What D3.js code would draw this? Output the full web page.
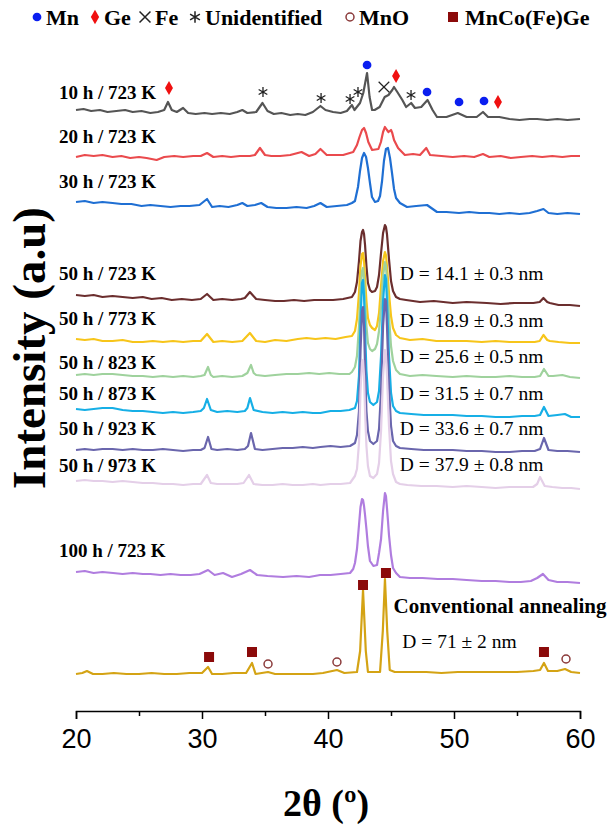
<!DOCTYPE html>
<html>
<head>
<meta charset="utf-8">
<script src="https://cdn.jsdelivr.net/npm/d3@7"></script>
<style>
  body { margin: 0; background: #fff; }
  .lbl { font-family: "Liberation Serif", "Times New Roman", serif; font-weight: bold; font-size: 19px; }
  .size { font-family: "Liberation Serif", "Times New Roman", serif; font-size: 19.5px; }
  .legend { font-family: "Liberation Serif", "Times New Roman", serif; font-weight: bold; font-size: 22px; }
  .axis text { font-family: "Liberation Sans", Arial, sans-serif; font-size: 27px; fill: #000; }
  .axis path, .axis line { stroke: #000; stroke-width: 1.5; }
  .axis-title { font-family: "Liberation Serif", "Times New Roman", serif; font-weight: bold; }
</style>
</head>
<body>
<svg id="xrd" width="615" height="831"></svg>
<script>
// XRD patterns, [2theta (deg), stacked intensity (a.u.)]
const h10_723 = [[20.0,601],[20.6,602],[21.2,600],[21.9,601],[22.5,599],[23.2,600],[23.9,601],[24.5,599],[25.2,600],[25.9,598],[26.5,599],[27.0,601],[27.3,609],[27.6,601],[28.0,599],[28.5,603],[28.9,598],[29.5,597],[30.2,598],[30.8,597],[31.5,598],[32.2,597],[32.8,599],[33.2,601],[33.6,598],[34.3,599],[34.8,608],[35.2,600],[35.7,597],[36.3,598],[37.0,596],[37.6,597],[38.2,596],[38.8,599],[39.4,605],[39.8,601],[40.4,599],[41.0,598],[41.5,600],[41.9,606],[42.1,601],[42.54,608],[42.8,618],[43.1,638],[43.3,614],[43.5,601],[43.7,601],[44.1,604],[44.5,614],[44.8,616],[45.1,621],[45.24,624],[45.5,619],[45.9,611],[46.2,604],[46.6,608],[46.9,603],[47.4,604],[47.9,611],[48.3,601],[48.65,594],[49.4,594],[50.3,598],[51.0,594],[51.8,594],[52.3,599],[52.7,594],[53.6,594],[54.4,592],[55.2,591],[56.0,592],[56.6,592],[57.4,591],[58.2,592],[59.0,591],[60.0,592]];
const h20_723 = [[20.0,554],[20.7,556],[21.4,555],[22.1,556],[22.9,554],[23.6,555],[24.3,553],[25.0,554],[25.6,553],[26.4,551],[27.0,554],[27.8,555],[28.5,554],[29.3,555],[29.9,555],[30.4,558],[30.9,554],[31.6,555],[32.3,554],[33.0,555],[33.8,555],[34.2,556],[34.6,563],[35.0,556],[35.5,555],[36.2,555],[37.0,556],[37.9,559],[38.5,555],[39.0,557],[39.4,562],[39.9,556],[40.5,556],[41.2,556],[42.0,559],[42.3,566],[42.5,574],[42.7,581],[42.86,583],[43.02,578],[43.2,569],[43.5,561],[44.0,562],[44.2,569],[44.37,579],[44.52,584],[44.68,581],[44.8,579],[45.0,581],[45.1,578],[45.24,571],[45.56,563],[46.1,556],[46.75,557],[47.3,556],[47.8,563],[48.1,556],[49.0,555],[49.9,554],[50.8,555],[51.6,554],[52.3,557],[52.8,554],[53.7,555],[54.5,553],[55.3,554],[56.2,555],[57.0,554],[57.8,555],[58.6,554],[59.3,555],[60.0,555]];
const h30_723 = [[20.0,509],[20.7,510],[21.4,508],[22.1,509],[22.9,508],[23.6,507],[24.4,507],[25.2,505],[25.9,506],[26.7,505],[27.5,504],[28.3,505],[29.0,505],[29.8,506],[30.4,512],[30.8,504],[31.4,505],[32.1,504],[32.8,506],[33.2,508],[33.6,505],[34.2,506],[34.7,508],[35.2,504],[35.9,503],[36.7,503],[37.5,504],[38.3,503],[38.9,505],[39.4,508],[39.9,504],[40.7,505],[41.5,506],[41.9,508],[42.14,510],[42.38,524],[42.54,540],[42.7,553],[42.86,558],[43.02,554],[43.17,543],[43.33,528],[43.49,514],[43.73,509],[43.97,510],[44.13,515],[44.29,530],[44.44,550],[44.6,562],[44.76,563],[44.92,553],[45.08,538],[45.24,522],[45.4,513],[45.71,508],[46.27,504],[47.0,505],[47.86,506],[48.65,499],[49.4,499],[50.4,498],[51.2,499],[52.0,498],[52.8,498],[53.6,497],[54.4,498],[55.2,497],[56.0,498],[56.6,500],[57.1,502],[57.5,498],[58.2,497],[59.0,498],[60.0,497]];
const h50_723 = [[20.0,416],[20.7,415],[21.4,416],[22.1,414],[22.9,415],[23.7,414],[24.5,413],[25.3,414],[26.0,412],[26.8,413],[27.6,411],[28.4,412],[29.2,411],[29.9,412],[30.4,417],[30.9,411],[31.6,412],[32.4,411],[33.1,412],[33.4,413],[33.8,419],[34.3,412],[35.0,411],[35.8,410],[36.5,410],[37.3,411],[38.1,410],[38.9,411],[39.6,411],[40.4,411],[41.2,412],[41.9,414],[42.14,419],[42.3,429],[42.46,450],[42.58,470],[42.7,479],[42.78,481],[42.86,477],[42.94,466],[43.05,445],[43.17,428],[43.33,421],[43.49,419],[43.73,420],[43.89,424],[44.05,436],[44.21,458],[44.37,478],[44.52,486],[44.6,484],[44.68,477],[44.84,452],[45.0,430],[45.16,420],[45.4,414],[45.71,412],[46.2,411],[47.3,409],[48.4,410],[49.9,408],[51.0,409],[52.6,408],[53.7,407],[54.8,408],[56.3,408],[56.8,409],[57.1,413],[57.4,409],[57.6,408],[58.3,406],[59.2,406],[60.0,405]];
const h50_773 = [[20.0,372],[20.7,371],[21.4,372],[22.1,370],[22.9,370],[23.7,371],[24.5,369],[25.3,369],[26.1,370],[26.9,369],[27.7,370],[28.5,369],[29.3,370],[29.9,370],[30.4,377],[30.9,369],[31.6,370],[32.4,369],[33.2,370],[33.8,378],[34.3,370],[35.0,369],[35.8,371],[36.7,370],[37.6,372],[38.3,373],[39.0,372],[39.8,373],[40.6,372],[41.4,374],[41.9,375],[42.14,380],[42.3,392],[42.46,418],[42.58,445],[42.7,457],[42.78,458],[42.86,450],[42.94,433],[43.05,410],[43.17,393],[43.33,386],[43.5,383],[43.73,381],[43.89,385],[44.05,398],[44.21,425],[44.37,450],[44.52,459],[44.6,456],[44.68,445],[44.84,418],[45.0,395],[45.16,383],[45.4,376],[45.71,373],[46.5,371],[47.5,372],[48.6,370],[49.9,370],[51.0,370],[52.2,369],[53.3,370],[54.4,369],[55.4,369],[56.4,369],[56.8,370],[57.1,376],[57.4,371],[57.6,370],[58.3,369],[59.2,368],[60.0,368]];
const h50_823 = [[20.0,336],[20.7,337],[21.4,336],[22.1,337],[22.9,337],[23.7,336],[24.5,335],[25.3,335],[26.1,334],[26.9,335],[27.7,334],[28.5,335],[29.3,334],[29.9,335],[30.2,336],[30.48,344],[30.7,336],[30.9,334],[31.6,335],[32.4,334],[33.2,335],[33.6,338],[33.89,346],[34.1,338],[34.3,336],[35.0,335],[35.8,336],[36.7,337],[37.6,337],[38.5,338],[39.3,337],[40.1,338],[40.9,337],[41.7,337],[41.9,339],[42.14,344],[42.3,355],[42.46,385],[42.58,420],[42.7,440],[42.78,443],[42.86,433],[42.94,410],[43.05,385],[43.17,368],[43.33,362],[43.5,360],[43.73,362],[43.89,367],[44.05,380],[44.21,405],[44.37,435],[44.52,449],[44.6,445],[44.68,430],[44.84,395],[45.0,365],[45.16,350],[45.4,341],[45.71,337],[46.5,335],[47.5,336],[48.6,335],[49.9,334],[51.0,335],[52.2,334],[53.3,334],[54.4,335],[55.4,334],[56.4,334],[56.83,335],[57.14,342],[57.5,335],[57.86,335],[58.6,336],[59.2,334],[60.0,333]];
const h50_873 = [[20.0,302],[20.7,301],[21.4,302],[22.1,303],[22.9,303],[23.7,301],[24.5,300],[25.3,300],[26.1,299],[26.9,298],[27.7,299],[28.5,298],[29.3,299],[29.9,300],[30.15,303],[30.4,312],[30.7,301],[31.2,299],[32.0,300],[32.8,299],[33.4,300],[33.6,303],[33.81,313],[34.1,301],[34.8,299],[35.6,298],[36.4,299],[37.2,298],[38.0,299],[38.8,298],[39.4,298],[40.2,300],[41.0,300],[41.7,301],[42.14,303],[42.3,310],[42.46,335],[42.58,390],[42.7,428],[42.78,431],[42.86,415],[42.94,380],[43.05,340],[43.17,318],[43.33,309],[43.6,306],[43.89,309],[44.05,320],[44.21,355],[44.37,410],[44.52,436],[44.6,432],[44.68,410],[44.84,355],[45.0,318],[45.16,305],[45.4,300],[45.71,298],[46.6,297],[47.6,296],[48.7,296],[49.9,296],[51.0,295],[52.2,295],[53.3,294],[54.4,294],[55.4,295],[56.4,295],[56.83,296],[57.14,304],[57.5,295],[58.2,296],[58.8,297],[59.3,294],[60.0,294]];
const h50_923 = [[20.0,261],[20.7,262],[21.4,261],[22.1,262],[22.9,262],[23.7,261],[24.5,262],[25.3,261],[26.1,261],[26.9,262],[27.7,261],[28.5,260],[29.3,261],[29.9,261],[30.2,263],[30.48,274],[30.75,262],[31.2,261],[32.0,262],[32.8,261],[33.4,262],[33.65,265],[33.89,278],[34.2,262],[34.8,261],[35.6,262],[36.4,263],[37.2,263],[38.0,264],[38.8,263],[39.4,264],[40.2,265],[41.0,264],[41.75,265],[42.14,268],[42.3,276],[42.46,300],[42.58,360],[42.7,400],[42.78,404],[42.86,385],[42.94,345],[43.05,300],[43.17,280],[43.33,270],[43.6,267],[43.89,270],[44.05,282],[44.21,320],[44.37,385],[44.52,412],[44.6,410],[44.68,385],[44.84,325],[45.0,285],[45.16,270],[45.4,265],[45.71,263],[46.6,262],[47.6,261],[48.7,261],[49.9,261],[51.0,260],[52.2,260],[53.3,259],[54.4,259],[55.4,260],[56.4,260],[56.83,262],[57.14,273],[57.5,261],[58.2,260],[59.0,260],[60.0,259]];
const h50_973 = [[20.0,230],[20.7,231],[21.4,230],[22.1,230],[22.9,229],[23.7,230],[24.5,229],[25.3,228],[26.1,228],[26.9,227],[27.7,227],[28.5,226],[29.3,227],[29.9,227],[30.4,236],[30.7,228],[31.2,227],[32.0,227],[32.8,227],[33.3,228],[33.73,236],[34.1,227],[34.8,226],[35.6,226],[36.4,227],[37.2,226],[38.0,226],[38.8,227],[39.4,226],[40.2,227],[41.0,227],[41.75,228],[42.14,235],[42.3,242],[42.46,268],[42.58,320],[42.7,349],[42.78,351],[42.86,335],[42.94,300],[43.05,265],[43.17,245],[43.33,235],[43.6,233],[43.89,237],[44.05,248],[44.21,280],[44.37,335],[44.52,361],[44.6,356],[44.68,335],[44.84,285],[45.0,250],[45.16,237],[45.4,229],[45.71,227],[46.3,226],[47.4,225],[48.6,225],[49.9,224],[51.0,225],[52.2,224],[53.3,223],[54.4,224],[55.4,224],[56.27,224],[56.6,227],[56.83,234],[57.2,225],[57.8,224],[58.6,223],[59.3,223],[60.0,222]];
const h100_723 = [[20.0,139],[20.7,140],[21.4,138],[22.1,139],[22.94,138],[23.7,137],[24.5,138],[25.3,137],[25.9,137],[26.7,136],[27.5,137],[28.3,136],[29.1,136],[29.8,137],[30.48,141],[31.0,136],[31.67,138],[32.38,134],[33.1,137],[33.81,141],[34.37,136],[35.2,135],[36.43,134],[37.5,135],[38.5,134],[39.37,136],[40.2,136],[41.0,137],[41.75,138],[42.0,142],[42.14,148],[42.3,162],[42.46,186],[42.58,204],[42.7,212],[42.78,211],[42.86,205],[42.94,196],[43.05,182],[43.17,165],[43.33,150],[43.6,145],[43.89,146],[44.05,158],[44.21,172],[44.37,200],[44.52,218],[44.6,215],[44.68,203],[44.76,190],[44.84,176],[45.0,156],[45.16,143],[45.4,138],[45.71,134],[46.5,133],[47.5,133],[48.7,132],[49.9,132],[51.0,131],[52.2,130],[53.3,130],[54.4,129],[55.3,129],[56.1,130],[56.6,133],[57.06,137],[57.5,131],[58.2,129],[59.0,129],[60.0,128]];
const conventional = [[20.0,37],[20.5,38],[20.87,40],[21.35,37],[22.1,37],[23.0,38],[24.0,37],[25.0,37],[26.0,38],[27.0,37],[28.0,37],[29.0,38],[30.0,38],[30.48,44],[30.8,37],[31.6,37],[32.5,38],[33.5,38],[33.97,48],[34.25,37],[35.24,39],[35.8,37],[36.8,37],[37.8,37],[38.8,37],[39.6,38],[40.71,41],[41.3,38],[42.3,39],[42.55,60],[42.78,121],[43.0,60],[43.17,39],[43.6,39],[44.13,39],[44.35,80],[44.52,132],[44.7,80],[44.9,41],[45.3,39],[46.5,39],[47.8,39],[49.0,38],[50.3,39],[51.5,39],[52.6,39],[53.8,39],[55.0,39],[56.3,40],[56.83,41],[57.14,48],[57.46,40],[58.2,40],[58.81,42],[59.3,39],[60.0,38]];

const seriesNames = ["10 h / 723 K","20 h / 723 K","30 h / 723 K","50 h / 723 K","50 h / 773 K","50 h / 823 K","50 h / 873 K","50 h / 923 K","50 h / 973 K","100 h / 723 K",""];
const crystalliteSizes = ["","","","D = 14.1 \u00b1 0.3 nm","D = 18.9 \u00b1 0.3 nm","D = 25.6 \u00b1 0.5 nm","D = 31.5 \u00b1 0.7 nm","D = 33.6 \u00b1 0.7 nm","D = 37.9 \u00b1 0.8 nm","",""];

// phase markers [2theta, intensity]
const mnPeaks = [[43.1,646],[47.86,619],[50.4,609],[52.38,610]];
const gePeaks = [[27.38,623],[45.4,635],[53.49,609]];
const fePeaks = [[44.44,624]];
const unknownPeaks = [[34.84,619],[39.45,613],[41.75,612],[42.38,619],[46.59,616]];
const mnoPeaks = [[35.24,47],[40.71,49],[58.89,52]];
const mncogePeaks = [[30.56,54],[33.97,59],[42.78,126],[44.6,138],[57.14,59]];

const xTicks = [20, 30, 40, 50, 60];

// styling
const colors = ["#555555","#ea4a4d","#1f6fd3","#6b2e2e","#f7c51a","#9fd29d","#16afe6","#6a66ad","#e4cfe8","#b07ddf","#d4a314"];
const labelGap = [11, 14, 14, 15, 14, 6, 9, 15, 9, 15, 0];
const sizeGap = [0, 0, 0, 15, 12, 12, 9, 15, 10, 0, 0];

const data = [h10_723, h20_723, h30_723, h50_723, h50_773, h50_823, h50_873, h50_923, h50_973, h100_723, conventional];

const svg = d3.select("#xrd");
const width = 615, height = 831;
const margin = {top: 11, right: 35, bottom: 120, left: 76};

const xScale = d3.scaleLinear().domain([20, 60]).range([margin.left, width - margin.right]);
const yScale = d3.scaleLinear().domain([0, 700]).range([height - margin.bottom, margin.top]);

// x axis
const xAxis = d3.axisBottom(xScale).tickValues(xTicks).tickSize(8).tickPadding(10).tickFormat(d3.format("d"));
svg.append("g").attr("class", "axis")
    .attr("transform", `translate(0, ${height - margin.bottom})`)
    .call(xAxis);
svg.append("g").attr("class", "axis")
    .attr("transform", `translate(0, ${height - margin.bottom})`)
    .call(d3.axisBottom(xScale).tickValues([25, 35, 45, 55]).tickSize(5).tickFormat(""))
    .select(".domain").remove();

svg.append("text").attr("class", "axis-title")
    .attr("x", xScale(40) - 2).attr("y", height - 15)
    .attr("text-anchor", "middle").attr("font-size", 38)
    .text("2\u03b8 (\u00ba)");
svg.append("text").attr("class", "axis-title")
    .attr("transform", `translate(45, ${yScale(363)}) rotate(-90)`)
    .attr("text-anchor", "middle").attr("font-size", 47)
    .text("Intensity (a.u)");

// patterns
const line = d3.line().x(d => xScale(d[0])).y(d => yScale(d[1]));
data.forEach((d, i) => {
    svg.append("path")
        .attr("d", line(d))
        .attr("fill", "none")
        .attr("stroke", colors[i])
        .attr("stroke-width", 2.2)
        .attr("stroke-linejoin", "round");
    if (seriesNames[i]) {
        svg.append("text").attr("class", "lbl")
            .attr("x", xScale(20) - 17)
            .attr("y", yScale(d[0][1]) - labelGap[i])
            .text(seriesNames[i]);
    }
    if (crystalliteSizes[i]) {
        svg.append("text").attr("class", "size")
            .attr("x", xScale(45.7))
            .attr("y", yScale(d[0][1]) - sizeGap[i])
            .text(crystalliteSizes[i]);
    }
});

svg.append("text").attr("class", "lbl")
    .attr("x", xScale(45.2)).attr("y", yScale(98))
    .style("font-size", "21px")
    .text("Conventional annealing");
svg.append("text").attr("class", "size")
    .attr("x", xScale(45.9)).attr("y", yScale(63))
    .text("D = 71 \u00b1 2 nm");

// phase markers
function drawMarks(pts, type, size, fill, stroke, sw) {
    svg.append("g").selectAll("path").data(pts).enter().append("path")
        .attr("transform", d => `translate(${xScale(d[0])}, ${yScale(d[1])})`)
        .attr("d", d3.symbol().type(type).size(size))
        .attr("fill", fill)
        .attr("stroke", stroke)
        .attr("stroke-width", sw);
}
drawMarks(mnPeaks, d3.symbolCircle, 60, "#0a1ef0", "none", 0);
drawMarks(gePeaks, d3.symbolDiamond, 55, "#f01010", "none", 0);
drawMarks(fePeaks, d3.symbolTimes, 75, "none", "#222", 1.2);
drawMarks(unknownPeaks, d3.symbolAsterisk, 70, "none", "#222", 1.3);
drawMarks(mnoPeaks, d3.symbolCircle, 50, "#fff", "#8b3a3a", 1.5);
drawMarks(mncogePeaks, d3.symbolSquare, 100, "#8b0a0a", "none", 0);

// legend
const legendItems = [
    {type: d3.symbolCircle, size: 60, fill: "#0a1ef0", stroke: "none", x: 37, tx: 46, label: "Mn"},
    {type: d3.symbolDiamond, size: 60, fill: "#f01010", stroke: "none", x: 95, tx: 104, label: "Ge"},
    {type: d3.symbolTimes, size: 80, fill: "none", stroke: "#222", x: 145, tx: 155, label: "Fe"},
    {type: d3.symbolAsterisk, size: 90, fill: "none", stroke: "#222", x: 195, tx: 205, label: "Unidentified"},
    {type: d3.symbolCircle, size: 50, fill: "#fff", stroke: "#8b3a3a", x: 350, tx: 359, label: "MnO"},
    {type: d3.symbolSquare, size: 100, fill: "#8b0a0a", stroke: "none", x: 453, tx: 465, label: "MnCo(Fe)Ge"}
];
const legend = svg.append("g");
legendItems.forEach(it => {
    legend.append("path")
        .attr("transform", `translate(${it.x}, 17)`)
        .attr("d", d3.symbol().type(it.type).size(it.size))
        .attr("fill", it.fill).attr("stroke", it.stroke).attr("stroke-width", 1.5);
    legend.append("text").attr("class", "legend")
        .attr("x", it.tx).attr("y", 25).text(it.label);
});
</script>
</body>
</html>
